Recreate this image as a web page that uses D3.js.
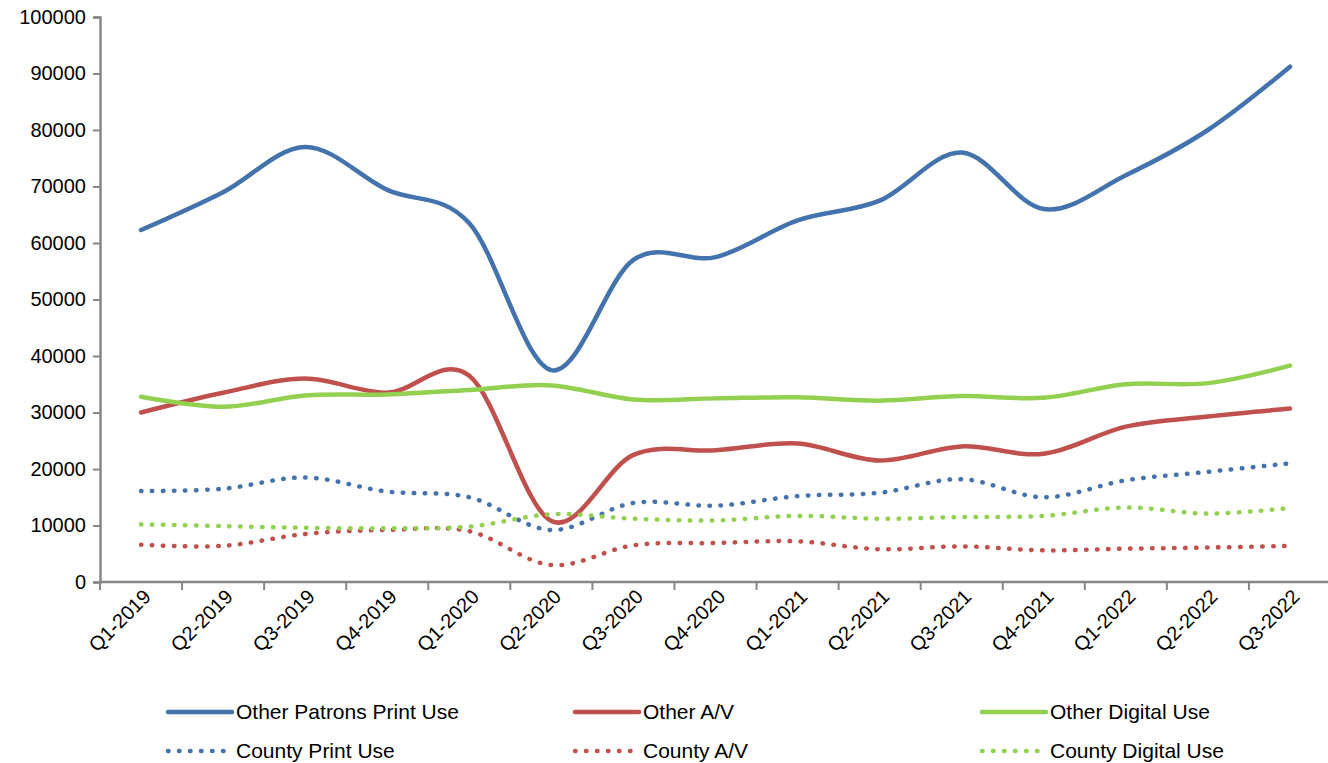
<!DOCTYPE html>
<html>
<head>
<meta charset="utf-8">
<script src="https://cdn.jsdelivr.net/npm/d3@7"></script>
<style>
  html, body { margin: 0; padding: 0; background: #fff; overflow: hidden; }
  text { font-family: "Liberation Sans", Arial, sans-serif; fill: #000; }
</style>
</head>
<body>
<svg id="chart"></svg>
<script>
// quarters on the category axis
const quarters = ['Q1-2019', 'Q2-2019', 'Q3-2019', 'Q4-2019', 'Q1-2020', 'Q2-2020', 'Q3-2020',
  'Q4-2020', 'Q1-2021', 'Q2-2021', 'Q3-2021', 'Q4-2021', 'Q1-2022', 'Q2-2022', 'Q3-2022'];

// series values
const otherPrint = [62300, 69000, 77000, 69400, 63500, 37500, 57000, 57500, 64000, 67500, 76000, 66000, 72000, 80000, 91200];
const otherAV = [30000, 33500, 36000, 33500, 36500, 10800, 22500, 23300, 24500, 21500, 24000, 22700, 27500, 29300, 30700];
const otherDigital = [32800, 31000, 33000, 33200, 34000, 34800, 32300, 32500, 32700, 32100, 32900, 32600, 35000, 35200, 38300];
const countyPrint = [16100, 16500, 18500, 16000, 15000, 9200, 14000, 13500, 15200, 15800, 18200, 15000, 18000, 19500, 21000];
const countyAV = [6600, 6400, 8500, 9200, 9000, 3000, 6500, 6900, 7200, 5800, 6300, 5600, 5900, 6100, 6400];
const countyDigital = [10200, 9900, 9600, 9500, 9800, 12000, 11200, 10900, 11700, 11200, 11500, 11700, 13200, 12100, 13100];

const yTicks = [0, 10000, 20000, 30000, 40000, 50000, 60000, 70000, 80000, 90000, 100000];

const seriesNames = ['Other Patrons Print Use', 'Other A/V', 'Other Digital Use',
  'County Print Use', 'County A/V', 'County Digital Use'];

const blue = '#4472AD', red = '#C0504D', green = '#92D050';
const series = [
  { name: seriesNames[0], values: otherPrint, color: blue, dotted: false },
  { name: seriesNames[1], values: otherAV, color: red, dotted: false },
  { name: seriesNames[2], values: otherDigital, color: green, dotted: false },
  { name: seriesNames[3], values: countyPrint, color: blue, dotted: true },
  { name: seriesNames[4], values: countyAV, color: red, dotted: true },
  { name: seriesNames[5], values: countyDigital, color: green, dotted: true }
];

const width = 1328, height = 763;
const margin = { top: 17, right: -3, bottom: 181, left: 100 };

const svg = d3.select('#chart')
  .attr('width', width)
  .attr('height', height);

// scales
const xScale = d3.scaleBand()
  .domain(quarters)
  .range([margin.left, width - margin.right]);

const yScale = d3.scaleLinear()
  .domain([0, 100000])
  .range([height - margin.bottom, margin.top]);

const xc = d => xScale(d) + xScale.bandwidth() / 2;

// y axis
const yAxis = svg.append('g')
  .attr('transform', `translate(${margin.left},0)`)
  .call(d3.axisLeft(yScale).tickValues(yTicks).tickFormat(d3.format('d')).tickSizeOuter(0).tickSize(7).tickPadding(7));
yAxis.selectAll('line').attr('stroke', '#868686').attr('stroke-width', 2);
yAxis.select('.domain').attr('stroke', '#868686').attr('stroke-width', 2.5);
yAxis.selectAll('text').style('font-size', '20px').attr('fill', '#000');

// x axis: ticks sit between categories
const xAxis = svg.append('g')
  .attr('transform', `translate(0,${yScale(0)})`);
xAxis.append('line')
  .attr('x1', margin.left).attr('x2', width)
  .attr('stroke', '#868686').attr('stroke-width', 2.5);
const edges = quarters.map(q => xScale(q)).concat([xScale.range()[1]]);
xAxis.selectAll('.tick-mark')
  .data(edges)
  .enter()
  .append('line')
  .attr('class', 'tick-mark')
  .attr('x1', d => d).attr('x2', d => d)
  .attr('y1', 0).attr('y2', 8)
  .attr('stroke', '#868686').attr('stroke-width', 2);
xAxis.selectAll('.qlabel')
  .data(quarters)
  .enter()
  .append('text')
  .attr('class', 'qlabel')
  .attr('text-anchor', 'end')
  .attr('transform', d => `translate(${xc(d) + 11},${16}) rotate(-45)`)
  .style('font-size', '20px')
  .text(d => d);

// lines
const line = d3.line()
  .x((d, i) => xc(quarters[i]))
  .y(d => yScale(d))
  .curve(d3.curveCardinal.tension(0));

svg.selectAll('.series')
  .data(series)
  .enter()
  .append('path')
  .attr('class', 'series')
  .attr('d', d => line(d.values))
  .attr('fill', 'none')
  .attr('stroke', d => d.color)
  .attr('stroke-width', 4.5)
  .attr('stroke-linecap', 'round')
  .attr('stroke-dasharray', d => d.dotted ? '0.5 10.5' : null);

// legend
const legendCols = [168, 575, 982];
const legendRows = [712, 751];
const legend = svg.selectAll('.legend-item')
  .data(series)
  .enter()
  .append('g')
  .attr('class', 'legend-item')
  .attr('transform', (d, i) => `translate(${legendCols[i % 3]},${legendRows[Math.floor(i / 3)]})`);

legend.append('line')
  .attr('x1', 0).attr('x2', 64)
  .attr('stroke', d => d.color)
  .attr('stroke-width', 4.5)
  .attr('stroke-linecap', 'round')
  .attr('stroke-dasharray', d => d.dotted ? '0.5 10.5' : null);

legend.append('text')
  .attr('x', 68)
  .attr('dy', '0.35em')
  .style('font-size', '21px')
  .text(d => d.name);
</script>
</body>
</html>
